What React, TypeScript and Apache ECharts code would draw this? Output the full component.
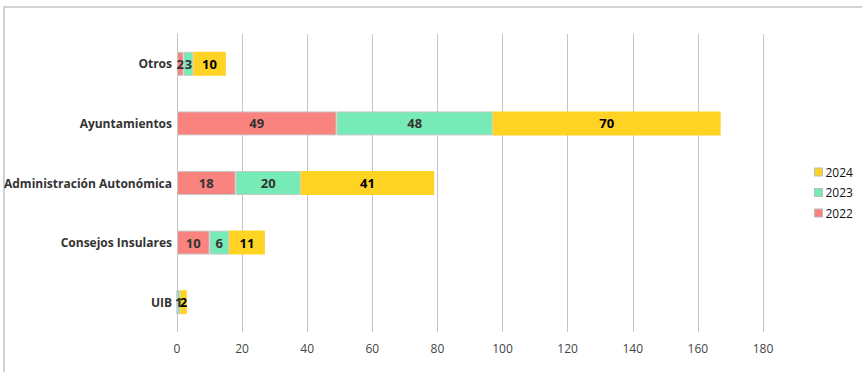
import React, { useEffect, useRef } from "react";
import * as echarts from "echarts";

const categories = ["UIB", "Consejos Insulares", "Administración Autonómica", "Ayuntamientos", "Otros"];
const values2022 = [0, 10, 18, 49, 2];
const values2023 = [1, 6, 20, 48, 3];
const values2024 = [2, 11, 41, 70, 10];
const xTicks = { min: 0, max: 180, interval: 20 };

const FONT = "'Open Sans', 'Noto Sans', sans-serif";

export default function App() {
  const ref = useRef<HTMLDivElement>(null);
  useEffect(() => {
    if (!ref.current) return;
    const chart = echarts.init(ref.current, null, { renderer: "svg" });
    const label = (color: string) => ({
      show: true,
      position: "inside",
      color,
      fontFamily: FONT,
      fontWeight: "bold",
      fontSize: 13,
      formatter: (p: any) => (p.value ? String(p.value) : ""),
    });
    chart.setOption({
      animation: false,
      textStyle: { fontFamily: FONT },
      graphic: [
        {
          type: "rect",
          shape: { x: 4, y: 7, width: 900, height: 400 },
          style: { fill: "none", stroke: "#c4c4c4", lineWidth: 1.5 },
          silent: true,
        },
      ],
      grid: { left: 177, right: 99, top: 34, bottom: 40, containLabel: false },
      legend: {
        orient: "vertical",
        left: 809,
        top: 160,
        itemWidth: 8,
        itemHeight: 8,
        itemGap: 6.5,
        icon: "rect",
        data: ["2024", "2023", "2022"],
        textStyle: { fontFamily: FONT, fontSize: 12, color: "#111", lineHeight: 14, padding: [0, 0, 0, -2] },
        itemStyle: { borderColor: "#bbbbbb", borderWidth: 1 },
      },
      xAxis: {
        type: "value",
        min: xTicks.min,
        max: xTicks.max,
        interval: xTicks.interval,
        axisLine: { show: false },
        axisTick: { show: false },
        splitLine: { show: true, lineStyle: { color: "#c4c4c4", width: 1 } },
        axisLabel: { color: "#444", fontSize: 12, fontFamily: FONT, margin: 10 },
      },
      yAxis: {
        type: "category",
        data: categories,
        axisLine: { show: true, lineStyle: { color: "#c4c4c4", width: 1 } },
        axisTick: { show: false },
        axisLabel: { color: "#333", fontSize: 12, fontWeight: "bold", fontFamily: FONT, margin: 5 },
      },
      series: [
        {
          name: "2022",
          type: "bar",
          stack: "total",
          barWidth: 24,
          data: values2022,
          itemStyle: { color: "#F8837F", borderColor: "#c8c8c8", borderWidth: 1 },
          label: label("#333"),
        },
        {
          name: "2023",
          type: "bar",
          stack: "total",
          barWidth: 24,
          data: values2023,
          itemStyle: { color: "#77EBB7", borderColor: "#c8c8c8", borderWidth: 1 },
          label: label("#333"),
        },
        {
          name: "2024",
          type: "bar",
          stack: "total",
          barWidth: 24,
          data: values2024,
          itemStyle: { color: "#FFD324" },
          label: label("#000"),
        },
      ],
    });
    return () => chart.dispose();
  }, []);
  return (
    <div
      ref={ref}
      style={{ position: "fixed", left: 0, top: 0, width: 862, height: 372, background: "#fff" }}
    />
  );
}
